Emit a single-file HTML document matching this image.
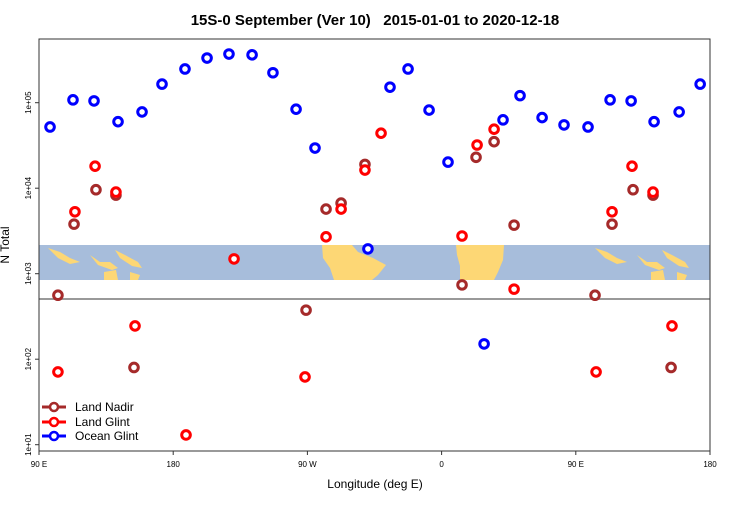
<!DOCTYPE html>
<html><head><meta charset="utf-8"><style>
body{margin:0;background:#fff;font-family:"Liberation Sans",sans-serif}
svg text{font-family:"Liberation Sans",sans-serif}
</style></head><body>
<svg id="c" width="750" height="500" xmlns="http://www.w3.org/2000/svg">
<text x="375" y="25" text-anchor="middle" font-size="15" font-weight="bold">15S-0 September (Ver 10)&#160;&#160;&#160;2015-01-01 to 2020-12-18</text>
<text x="375" y="488" text-anchor="middle" font-size="12">Longitude (deg E)</text>
<text transform="translate(9,245) rotate(-90)" text-anchor="middle" font-size="12">N Total</text>
<g id="map">
<rect x="39" y="245" width="671" height="35" fill="#a7bddb"/>
<path d="M322,245 L352,245 L358,252 L373,258 L386,265 L378,275 L372,280 L334,280 L330,268 L323,258 Z" fill="#fdd775"/>
<path d="M456,245 L504,245 L503,260 L498,272 L494,280 L460,280 L460,266 L457,255 Z" fill="#fdd775"/>
<path d="M48,248 L60,252 L70,258 L80,262 L70,264 L58,258 Z M90,255 L100,262 L110,262 L118,268 L112,270 L98,265 Z M115,250 L125,255 L138,262 L142,268 L132,266 L120,258 Z M104,272 L116,270 L118,280 L104,280 Z M130,272 L140,275 L138,280 L130,280 Z" fill="#fdd775"/>
<path d="M595,248 L607,252 L617,258 L627,262 L617,264 L605,258 Z M637,255 L647,262 L657,262 L665,268 L659,270 L645,265 Z M662,250 L672,255 L685,262 L689,268 L679,266 L667,258 Z M651,272 L663,270 L665,280 L651,280 Z M677,272 L687,275 L685,280 L677,280 Z" fill="#fdd775"/>
</g>
<line x1="39" y1="299" x2="710" y2="299" stroke="#999" stroke-width="2"/>
<rect x="39" y="39" width="671" height="412" fill="none" stroke="#333" stroke-width="1"/>
<g id="axes"></g>
<g id="pts"></g>
<g>
<g><line x1="42" y1="407" x2="66" y2="407" stroke="#a52a2a" stroke-width="3"/><circle cx="54" cy="407" r="4" fill="#fff" stroke="#a52a2a" stroke-width="2.5"/><text x="75" y="411" font-size="12">Land Nadir</text></g>
<g><line x1="42" y1="422" x2="66" y2="422" stroke="#f00" stroke-width="3"/><circle cx="54" cy="422" r="4" fill="#fff" stroke="#f00" stroke-width="2.5"/><text x="75" y="426" font-size="12">Land Glint</text></g>
<g><line x1="42" y1="436" x2="66" y2="436" stroke="#00f" stroke-width="3"/><circle cx="54" cy="436" r="4" fill="#fff" stroke="#00f" stroke-width="2.5"/><text x="75" y="440" font-size="12">Ocean Glint</text></g>
</g>
</svg>
<script>
const xTicks=[90,180,270,360,450,540];
const xTickLabels=["90 E","180","90 W","0","90 E","180"];
const yTicks=[1,2,3,4,5];
const yTickLabels=["1e+01","1e+02","1e+03","1e+04","1e+05"];
const oceanLon=[97.4,112.8,126.9,143,159.1,172.5,187.9,202.7,217.4,232.9,246.9,262.4,275.1,310.6,325.4,337.5,351.6,364.3,388.5,401.2,412.6,427.4,442.1,458.2,473,487.1,502.5,519.3,533.4];
const oceanVal=[52000,108000,105000,60000,78000,165000,248000,333000,371000,363000,224000,84000,29500,1950,152000,248000,82000,20200,151,63000,121000,67000,55000,52000,108000,105000,60000,78000,165000];
const glintLon=[114.1,127.6,141.6,154.4,102.7,188.6,220.8,268.4,282.5,292.6,308.6,319.4,373.7,383.8,395.2,408.6,463.6,474.3,487.7,501.8,514.5];
const glintVal=[5300,18100,9000,245,71,13,1490,62,2700,5700,16300,44000,2760,32000,49000,660,71,5300,18100,9000,245];
const nadirLon=[102.7,113.5,128.2,141.6,153.7,269.1,282.5,292.6,308.6,373.7,383.1,395.2,408.6,462.9,474.3,488.4,501.8,513.9];
const nadirVal=[560,3800,9600,8300,80,375,5700,6700,19000,740,23000,35000,3700,560,3800,9600,8300,80];
const NS="http://www.w3.org/2000/svg";
function xs(l){return 39+(l-90)*671/450;}
function ys(v){return 273.7-(Math.log10(v)-3)*85.5;}
function mk(t,a,p){const e=document.createElementNS(NS,t);for(const k in a)e.setAttribute(k,a[k]);p.appendChild(e);return e;}
const ax=document.getElementById('axes');
xTicks.forEach((t,i)=>{const x=xs(t);
 const l=mk('line',{x1:x,x2:x,y1:451,y2:455,stroke:'#333'},ax);
 
 
 const tx=mk('text',{x:x,y:467,'font-size':8,'text-anchor':'middle'},ax);tx.textContent=xTickLabels[i];
 
 
});
yTicks.forEach((t,i)=>{const y=ys(Math.pow(10,t));
 const l=mk('line',{x1:35,x2:39,y1:y,y2:y,stroke:'#333'},ax);
 
 
 const tx=mk('text',{transform:`translate(31,${y}) rotate(-90)`,'font-size':8,'text-anchor':'middle'},ax);tx.textContent=yTickLabels[i];
 
 
});
const pg=document.getElementById('pts');
function series(lon,val,col,name){lon.forEach((l,i)=>{
 const c=mk('circle',{cx:xs(l),cy:ys(val[i]),r:4.3,fill:'#fff',stroke:col,'stroke-width':3},pg);
 
 
});}
series(nadirLon,nadirVal,'#a52a2a','land-nadir-point');
series(glintLon,glintVal,'#ff0000','land-glint-point');
series(oceanLon,oceanVal,'#0000ff','ocean-glint-point');
</script>
</body></html>
